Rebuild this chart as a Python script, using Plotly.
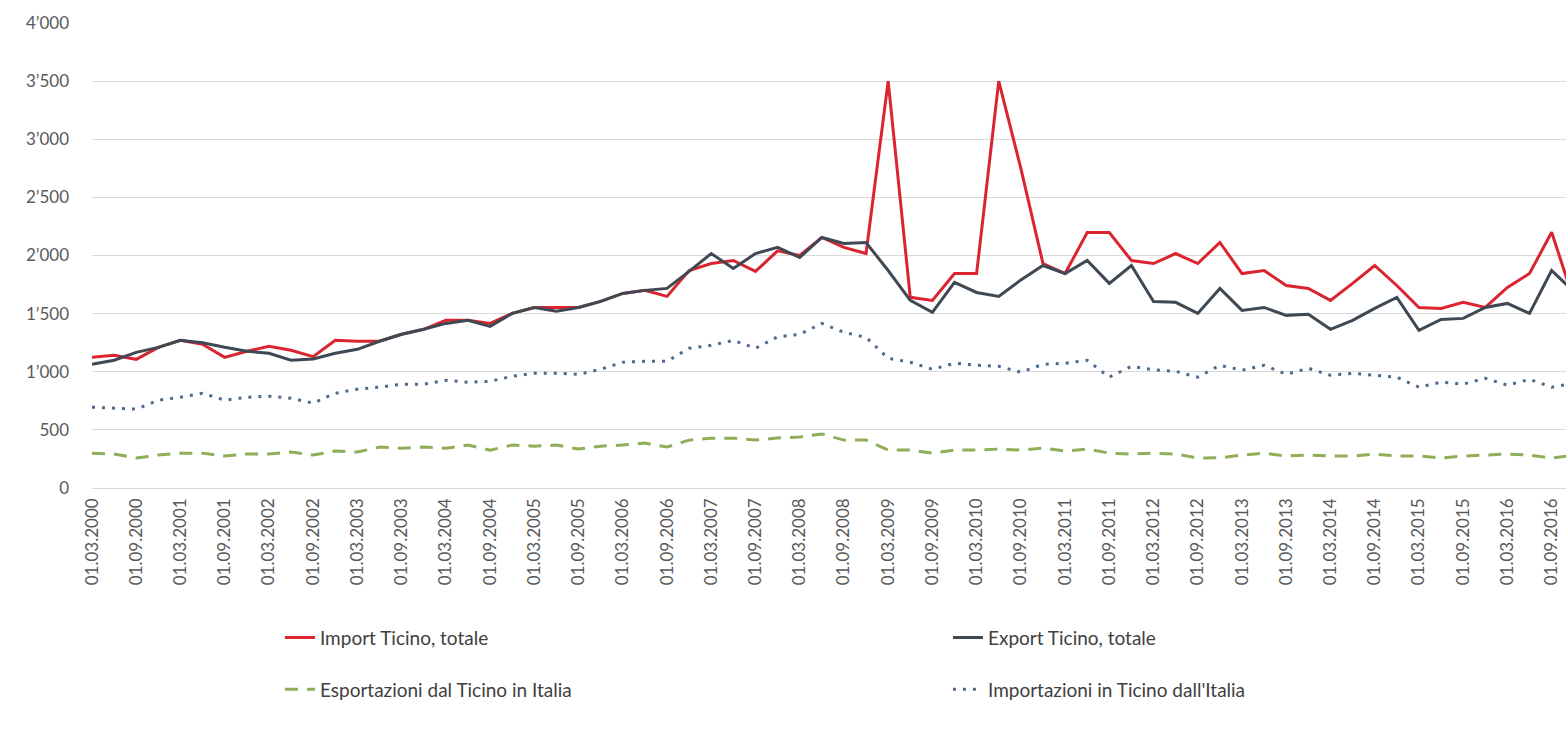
import plotly.graph_objects as go

# Quarterly dates, Q1 2000 .. Q4 2016
years = list(range(2000, 2017))
months = ["03", "06", "09", "12"]
quarters = [f"01.{m}.{y}" for y in years for m in months]

import_ticino = [
    1124, 1142, 1107, 1210, 1270, 1236, 1124, 1176, 1219, 1185,
    1130, 1270, 1262, 1262, 1322, 1365, 1442, 1442, 1416, 1502,
    1553, 1553, 1553, 1605, 1674, 1700, 1648, 1870, 1931, 1957,
    1863, 2040, 2000, 2155, 2070, 2017, 3500, 1640, 1614, 1845,
    1845, 3500, 2750, 1931, 1845, 2197, 2197, 1957, 1931, 2017,
    1931, 2112, 1845, 1871, 1742, 1717, 1614, 1760, 1914, 1742,
    1553, 1545, 1597, 1553, 1725, 1845, 2200, 1620,
]
export_ticino = [
    1064, 1099, 1167, 1210, 1270, 1250, 1210, 1176, 1159, 1099,
    1110, 1159, 1193, 1262, 1322, 1365, 1416, 1442, 1390, 1502,
    1553, 1520, 1553, 1605, 1674, 1700, 1717, 1863, 2017, 1888,
    2017, 2070, 1983, 2155, 2103, 2112, 1871, 1614, 1511, 1768,
    1682, 1648, 1790, 1914, 1845, 1957, 1760, 1914, 1605, 1597,
    1502, 1717, 1528, 1553, 1485, 1494, 1365, 1442, 1545, 1640,
    1356, 1450, 1459, 1553, 1588, 1502, 1871, 1690,
]
esportazioni_italia = [
    300, 292, 258, 283, 300, 300, 275, 292, 292, 309,
    283, 318, 309, 352, 343, 352, 343, 369, 326, 369,
    360, 369, 335, 360, 369, 386, 352, 412, 429, 429,
    412, 430, 438, 465, 412, 412, 326, 326, 300, 326,
    326, 335, 326, 343, 318, 335, 300, 292, 300, 292,
    258, 260, 283, 300, 275, 283, 275, 275, 292, 275,
    275, 258, 275, 283, 292, 283, 258, 280,
]
importazioni_italia = [
    695, 687, 678, 755, 781, 815, 755, 781, 790, 772,
    730, 815, 850, 867, 893, 893, 927, 910, 918, 961,
    987, 987, 978, 1021, 1082, 1090, 1090, 1202, 1227, 1270,
    1202, 1300, 1322, 1416, 1339, 1296, 1116, 1082, 1021, 1073,
    1056, 1047, 996, 1064, 1073, 1099, 953, 1047, 1017, 1004,
    953, 1056, 1013, 1056, 978, 1030, 970, 987, 970, 953,
    867, 910, 893, 944, 884, 935, 867, 900,
]

y_ticks = [0, 500, 1000, 1500, 2000, 2500, 3000, 3500, 4000]
y_ticktext = ["0", "500", "1’000", "1’500", "2’000", "2’500", "3’000", "3’500", "4’000"]

FONT = "Lato, 'Open Sans', sans-serif"

fig = go.Figure()
# left legend column: Import / Esportazioni; right column: Export / Importazioni
fig.add_trace(go.Scatter(
    x=quarters, y=import_ticino, mode="lines", name="Import Ticino, totale",
    line=dict(color="#DA2530", width=3), legend="legend", legendgroup="a",
))
fig.add_trace(go.Scatter(
    x=quarters, y=export_ticino, mode="lines", name="Export Ticino, totale",
    line=dict(color="#3E4954", width=3), legend="legend2", legendgroup="b",
))
fig.add_trace(go.Scatter(
    x=quarters, y=esportazioni_italia, mode="lines", name="Esportazioni dal Ticino in Italia",
    line=dict(color="#8EAE58", width=3, dash="13px,9px"), legend="legend", legendgroup="c",
))
fig.add_trace(go.Scatter(
    x=quarters, y=importazioni_italia, mode="lines", name="Importazioni in Ticino dall'Italia",
    line=dict(color="#4B6A8C", width=3, dash="3px,7px"), legend="legend2", legendgroup="d",
))

legend_style = dict(
    orientation="v", yanchor="top", xanchor="left",
    font=dict(size=19, color="#404040"), tracegroupgap=24,
    bgcolor="rgba(0,0,0,0)",
)

fig.update_layout(
    width=1566, height=729,
    margin=dict(l=92, r=0, t=23, b=241),
    paper_bgcolor="white", plot_bgcolor="white",
    font=dict(family=FONT, color="#595959"),
    showlegend=True,
    legend=dict(x=0.1275, y=-0.281, **legend_style),
    legend2=dict(x=0.5807, y=-0.281, **legend_style),
)
fig.update_xaxes(
    type="category", categoryorder="array", categoryarray=quarters,
    range=[0, 66.65], tickvals=quarters[::2], ticktext=quarters[::2],
    tickangle=-90, tickfont=dict(size=17, color="#595959"),
    showgrid=False, showline=False, ticks="", zeroline=False,
    ticklabelstandoff=6,
)
fig.update_yaxes(
    range=[0, 4000], tickvals=y_ticks, ticktext=y_ticktext,
    tickfont=dict(size=17, color="#595959"),
    showgrid=True, gridcolor="#D9D9D9", gridwidth=1,
    zeroline=True, zerolinecolor="#D9D9D9", zerolinewidth=1,
    ticks="", ticklabelstandoff=22,
)

fig.write_html("out.html")
